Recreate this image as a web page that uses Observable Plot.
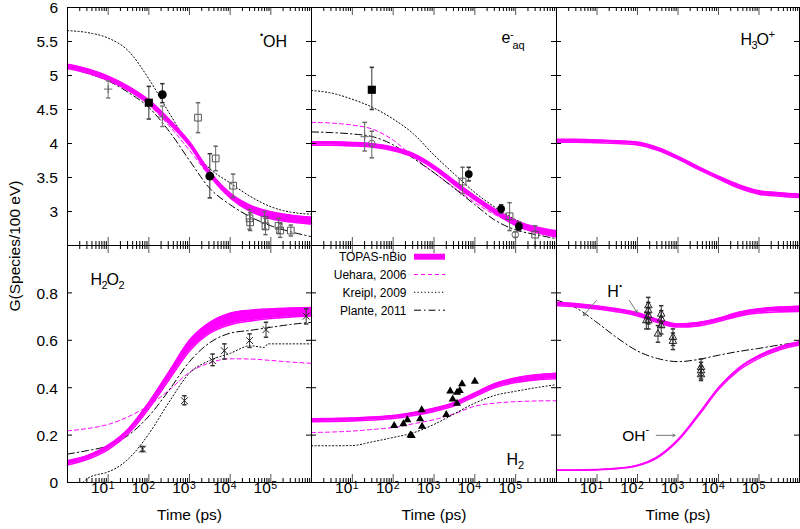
<!DOCTYPE html>
<html><head><meta charset="utf-8">
<script src="https://cdn.jsdelivr.net/npm/d3@7"></script>
<script src="https://cdn.jsdelivr.net/npm/@observablehq/plot@0.6"></script>
<style>
body{margin:0;background:#fff;}
#chart{position:relative;width:800px;height:529px;overflow:hidden;background:#fff;font-family:"Liberation Sans",Arial,sans-serif;}
#chart svg{position:absolute;}
</style></head><body><div id="chart"></div>
<script>
// ---------- shared time grid (ps) ----------
const T = [1, 3.16, 10, 31.6, 100, 316, 1000, 3160, 10000, 31600, 100000, 316000, 1000000];

// ---------- •OH ----------
const ohTopasHi = [5.165, 5.095, 4.99, 4.84, 4.64, 4.355, 4.025, 3.585, 3.27, 3.09, 2.995, 2.945, 2.915];
const ohTopasLo = [5.105, 5.035, 4.93, 4.78, 4.58, 4.295, 3.965, 3.525, 3.2, 3.0, 2.895, 2.845, 2.815];
const ohUehara = [5.16, 5.09, 4.97, 4.8, 4.57, 4.26, 3.9, 3.52, 3.22, 3.02, 2.91, 2.86, 2.83];
const ohKreipl = [5.66, 5.63, 5.55, 5.36, 4.95, 4.45, 3.98, 3.63, 3.42, 3.22, 3.07, 2.99, 2.96];
const ohPlante = [5.11, 5.03, 4.92, 4.75, 4.53, 4.18, 3.75, 3.34, 3.1, 2.92, 2.79, 2.7, 2.63];
// [t, G, errLow, errHigh]
const ohFilledSquares = [[100, 4.6, 4.36, 4.84]];
const ohFilledCircles = [[215, 4.72, 4.6, 4.88], [3160, 3.52, 3.2, 3.85]];
const ohOpenSquares = [[1620, 4.38, 4.16, 4.6], [4400, 3.78, 3.6, 3.96], [11800, 3.38, 3.21, 3.55], [30000, 2.9, 2.74, 3.03], [31000, 2.84, 2.72, 2.98], [70000, 2.88, 2.74, 3.0], [74000, 2.78, 2.66, 2.9], [155000, 2.79, 2.68, 2.9], [170000, 2.72, 2.62, 2.82], [310000, 2.72, 2.64, 2.8]];
const ohPlus = [[10, 4.8, 4.67, 4.92], [215, 4.39, 4.25, 4.55]];

// ---------- e-aq ----------
const eTopasHi = [4.025, 4.025, 4.015, 3.995, 3.945, 3.85, 3.675, 3.45, 3.23, 3.03, 2.865, 2.77, 2.715];
const eTopasLo = [3.975, 3.975, 3.965, 3.945, 3.895, 3.8, 3.625, 3.39, 3.17, 2.97, 2.795, 2.69, 2.625];
const eUehara = [4.31, 4.30, 4.27, 4.21, 4.05, 3.8, 3.57, 3.35, 3.13, 2.95, 2.82, 2.73, 2.68];
const eKreipl = [4.78, 4.74, 4.65, 4.53, 4.36, 4.14, 3.83, 3.55, 3.28, 3.06, 2.88, 2.76, 2.68];
const ePlante = [4.17, 4.16, 4.14, 4.1, 3.98, 3.78, 3.57, 3.34, 3.1, 2.87, 2.73, 2.66, 2.6];
const eFilledSquares = [[30, 4.79, 4.5, 5.12]];
const eFilledCircles = [[7100, 3.55, 3.45, 3.65], [44000, 3.04, 2.98, 3.1], [120000, 2.78, 2.72, 2.84]];
const eOpenCircles = [[30, 4.0, 3.79, 4.18], [98000, 2.66, 2.62, 2.7]];
const ePlus = [[20, 4.1, 3.89, 4.31]];
const eOpenSquares = [[5000, 3.44, 3.26, 3.65], [71000, 2.93, 2.72, 3.13], [300000, 2.66, 2.5, 2.79]];

// ---------- H3O+ ----------
const h3oTopasHi = [4.06, 4.06, 4.05, 4.04, 4.02, 3.94, 3.81, 3.66, 3.52, 3.395, 3.305, 3.275, 3.255];
const h3oTopasLo = [4.02, 4.02, 4.01, 4.0, 3.98, 3.9, 3.77, 3.62, 3.48, 3.345, 3.255, 3.225, 3.205];

// ---------- H2O2 ----------
const h2o2TopasHi = [0.092, 0.114, 0.157, 0.227, 0.338, 0.468, 0.6, 0.675, 0.714, 0.727, 0.732, 0.736, 0.738];
const h2o2TopasLo = [0.074, 0.098, 0.139, 0.207, 0.312, 0.434, 0.555, 0.63, 0.666, 0.682, 0.692, 0.699, 0.703];
const h2o2Uehara = [0.218, 0.228, 0.245, 0.278, 0.325, 0.39, 0.465, 0.505, 0.522, 0.521, 0.515, 0.508, 0.503];
const h2o2KreiplT = [2.4, 3.16, 10, 14, 31.6, 100, 316, 1000, 3160, 10000, 31600, 69000, 85000, 316000, 1000000];
const h2o2Kreipl = [0.0, 0.018, 0.045, 0.056, 0.1, 0.205, 0.34, 0.462, 0.515, 0.545, 0.577, 0.57, 0.585, 0.585, 0.585];
const h2o2Plante = [0.12, 0.135, 0.155, 0.2, 0.28, 0.39, 0.51, 0.59, 0.63, 0.642, 0.655, 0.667, 0.676];
const h2o2Points = [[70, 0.141, 0.13, 0.152], [750, 0.345, 0.328, 0.366], [3700, 0.514, 0.493, 0.542], [7200, 0.556, 0.521, 0.585], [30000, 0.599, 0.57, 0.627], [76000, 0.645, 0.613, 0.676], [740000, 0.702, 0.669, 0.733]];

// ---------- H2 ----------
const h2TopasHi = [0.269, 0.27, 0.272, 0.276, 0.282, 0.295, 0.313, 0.338, 0.378, 0.418, 0.441, 0.454, 0.461];
const h2TopasLo = [0.257, 0.258, 0.26, 0.264, 0.27, 0.283, 0.3, 0.324, 0.363, 0.401, 0.422, 0.433, 0.438];
const h2Uehara = [0.211, 0.213, 0.217, 0.224, 0.232, 0.248, 0.265, 0.29, 0.322, 0.335, 0.341, 0.344, 0.345];
const h2Kreipl = [0.155, 0.155, 0.156, 0.172, 0.19, 0.21, 0.245, 0.29, 0.335, 0.368, 0.385, 0.4, 0.413];
const h2Points = [[106, 0.24], [178, 0.247], [223, 0.264], [265, 0.2], [285, 0.198], [457, 0.268], [500, 0.306], [510, 0.237], [2000, 0.286], [2500, 0.385], [2870, 0.352], [3670, 0.334], [3670, 0.38], [4260, 0.387], [4860, 0.416], [10000, 0.427]];

// ---------- H• and OH- ----------
const hTopasHi = [0.76, 0.754, 0.745, 0.733, 0.716, 0.688, 0.669, 0.675, 0.693, 0.718, 0.733, 0.74, 0.744];
const hTopasLo = [0.747, 0.741, 0.732, 0.72, 0.703, 0.675, 0.656, 0.661, 0.679, 0.702, 0.715, 0.72, 0.722];
const hPlante = [0.77, 0.735, 0.675, 0.61, 0.555, 0.523, 0.51, 0.519, 0.537, 0.553, 0.566, 0.58, 0.592];
const ohmTopasHi = [0.053, 0.053, 0.055, 0.06, 0.073, 0.109, 0.181, 0.287, 0.4, 0.483, 0.536, 0.572, 0.594];
const ohmTopasLo = [0.051, 0.051, 0.053, 0.058, 0.07, 0.105, 0.176, 0.28, 0.392, 0.473, 0.524, 0.559, 0.58];
const hPoints = [[185, 0.746, 0.711, 0.781], [185, 0.725, 0.69, 0.76], [185, 0.704, 0.669, 0.739], [185, 0.683, 0.648, 0.718], [165, 0.683, 0.648, 0.718], [385, 0.711, 0.676, 0.746], [385, 0.69, 0.655, 0.725], [385, 0.662, 0.627, 0.697], [320, 0.627, 0.592, 0.662], [750, 0.613, 0.578, 0.648], [750, 0.596, 0.561, 0.631], [3700, 0.486, 0.451, 0.521], [3700, 0.472, 0.437, 0.507], [3700, 0.455, 0.43, 0.49]];
// annotations [t1, G1, t2, G2] and label anchors [t, G]
const annotationArrows = [[9.7, 0.768, 4.6, 0.704], [63, 0.768, 98, 0.717], [290, 0.199, 850, 0.199]];
const hLabelAt = [[25, 0.806]];
const ohmLabelAt = [[81, 0.197]];

// ---------- axes ----------
const xMajor = [1, 10, 100, 1000, 10000, 100000, 1000000];
const xMinor = xMajor.slice(0, -1).flatMap(d => [2, 3, 4, 5, 6, 7, 8, 9].map(k => k * d));
const xLabelTicks = [10, 100, 1000, 10000, 100000];
const xLabelExps = ["1", "2", "3", "4", "5"];
const topYTicks = [2.5, 3, 3.5, 4, 4.5, 5, 5.5, 6];
const topYLabelVals = [3, 3.5, 4, 4.5, 5, 5.5, 6];
const topYLabels = ["3", "3.5", "4", "4.5", "5", "5.5", "6"];
const botYTicks = [0, 0.2, 0.4, 0.6, 0.8, 1];
const botYLabelVals = [0, 0.2, 0.4, 0.6, 0.8];
const botYLabels = ["0", "0.2", "0.4", "0.6", "0.8"];
const legendNames = ["TOPAS-nBio", "Uehara, 2006", "Kreipl, 2009", "Plante, 2011"];

// ---------- layout ----------
const COLX = [67, 311, 556, 799];
const ROWY = [7, 245, 482];
const MAG = "#ff00ff";
const FONT = "Liberation Sans, Arial, Helvetica, sans-serif";
const chart = document.getElementById("chart");

const rowsOf = (ts, vs) => ts.map((t, i) => ({t, v: vs[i]}));
const CURVE = "monotone-x";
const uehara = (vs, ts = T) => Plot.line(rowsOf(ts, vs), {x: "t", y: "v", stroke: MAG, strokeWidth: 1, strokeDasharray: "4,3", curve: CURVE});
const kreipl = (vs, ts = T) => Plot.line(rowsOf(ts, vs), {x: "t", y: "v", stroke: "#000", strokeWidth: 1, strokeDasharray: "1.2,2.3", curve: CURVE});
const plante = (vs, ts = T) => Plot.line(rowsOf(ts, vs), {x: "t", y: "v", stroke: "#000", strokeWidth: 1, strokeDasharray: "7,3,1.5,3", curve: CURVE});
const topas = (lo, hi, w = 1.6) => {
  const d = T.map((t, i) => ({t, lo: lo[i], hi: hi[i]}));
  return [
    Plot.areaY(d, {x: "t", y1: "lo", y2: "hi", fill: MAG, curve: CURVE}),
    Plot.line(d, {x: "t", y: "lo", stroke: MAG, strokeWidth: w, curve: CURVE}),
    Plot.line(d, {x: "t", y: "hi", stroke: MAG, strokeWidth: w, curve: CURVE})
  ];
};
const capSym = {draw(ctx) { ctx.moveTo(-2.2, 0); ctx.lineTo(2.2, 0); }};
const errBars = (pts, color = "#444") => [
  Plot.ruleX(pts, {x: p => p[0], y1: p => p[2], y2: p => p[3], stroke: color, strokeWidth: 1}),
  Plot.dot(pts, {x: p => p[0], y: p => p[2], symbol: capSym, r: 2, fill: "none", stroke: color}),
  Plot.dot(pts, {x: p => p[0], y: p => p[3], symbol: capSym, r: 2, fill: "none", stroke: color})
];
const dots = (pts, symbol, r, fill, stroke, sw = 1) => Plot.dot(pts, {x: p => p[0], y: p => p[1], symbol, r, fill, stroke, strokeWidth: sw});

function frameTicks(fw, fh, yT) {
  return [
    Plot.tickX(xMinor, {x: d => d, insetTop: fh - 4, stroke: "#000"}),
    Plot.tickX(xMinor, {x: d => d, insetBottom: fh - 4, stroke: "#000"}),
    Plot.tickX(xMajor, {x: d => d, insetTop: fh - 8, stroke: "#555"}),
    Plot.tickX(xMajor, {x: d => d, insetBottom: fh - 8, stroke: "#555"}),
    Plot.tickY(yT, {y: d => d, insetRight: fw - 5, stroke: "#000"}),
    Plot.tickY(yT, {y: d => d, insetLeft: fw - 5, stroke: "#000"})
  ];
}

function panel(col, row, marks) {
  const fw = COLX[col + 1] - COLX[col], fh = ROWY[row + 1] - ROWY[row];
  const ml = col === 0 ? 67 : 0, mt = row === 0 ? ROWY[0] : 0, mb = row === 1 ? 47 : 0, mr = 1;
  const top = row === 0;
  const all = [...marks, ...frameTicks(fw, fh, top ? topYTicks : botYTicks), Plot.frame({stroke: "#000"})];
  if (col === 0) {
    const vals = top ? topYLabelVals : botYLabelVals, labs = top ? topYLabels : botYLabels;
    all.push(Plot.text(vals, {y: d => d, text: (d, i) => labs[i], frameAnchor: "left", textAnchor: "end", dx: -9.5, dy: 1, fontSize: 15.5, fill: "#000"}));
  }
  if (!top) {
    all.push(
      Plot.text(xLabelTicks, {x: d => d, text: () => "10", frameAnchor: "bottom", textAnchor: "end", dy: 10.5, fontSize: 15.5, fill: "#000"}),
      Plot.text(xLabelTicks, {x: d => d, text: (d, i) => xLabelExps[i], frameAnchor: "bottom", textAnchor: "start", dx: 0.5, dy: 6.5, fontSize: 10.5, fill: "#000"}),
      Plot.text(["Time (ps)"], {frameAnchor: "bottom", dy: 37, fontSize: 15.5, fill: "#000"})
    );
  }
  const svg = Plot.plot({
    width: ml + fw + mr, height: mt + fh + mb,
    marginLeft: ml, marginRight: mr, marginTop: mt, marginBottom: mb,
    x: {type: "log", domain: [1, 1e6], axis: null},
    y: {domain: top ? [2.5, 6] : [0, 1], axis: null},
    style: {background: "transparent", overflow: "visible", fontFamily: FONT, fontSize: "15px", color: "#000"},
    marks: all
  });
  svg.style.left = (COLX[col] - ml) + "px";
  svg.style.top = (ROWY[row] - mt) + "px";
  chart.append(svg);
}

// •OH
panel(0, 0, [
  uehara(ohUehara), kreipl(ohKreipl), plante(ohPlante), ...topas(ohTopasLo, ohTopasHi),
  ...errBars(ohOpenSquares, "#666"), ...errBars(ohPlus, "#777"), ...errBars(ohFilledSquares, "#333"), ...errBars(ohFilledCircles, "#333"),
  dots(ohOpenSquares, "square", 3.8, "none", "#555"),
  dots(ohPlus, "plus", 2.8, "none", "#666"),
  dots(ohFilledSquares, "square", 4.6, "#000", "none"),
  dots(ohFilledCircles, "circle", 4.4, "#000", "none")
]);
// e-aq
panel(1, 0, [
  uehara(eUehara), kreipl(eKreipl), plante(ePlante), ...topas(eTopasLo, eTopasHi),
  ...errBars(eOpenSquares, "#666"), ...errBars(ePlus, "#666"), ...errBars(eOpenCircles, "#666"), ...errBars(eFilledSquares, "#333"), ...errBars(eFilledCircles, "#333"),
  dots(eOpenSquares, "square", 3.8, "none", "#555"),
  dots(eOpenCircles, "circle", 3.3, "none", "#666"),
  dots(ePlus, "plus", 2.8, "none", "#666"),
  dots(eFilledSquares, "square", 4.6, "#000", "none"),
  dots(eFilledCircles, "circle", 3.9, "#000", "none")
]);
// H3O+
panel(2, 0, [...topas(h3oTopasLo, h3oTopasHi)]);
// H2O2
panel(0, 1, [
  uehara(h2o2Uehara), kreipl(h2o2Kreipl, h2o2KreiplT), plante(h2o2Plante), ...topas(h2o2TopasLo, h2o2TopasHi),
  ...errBars(h2o2Points, "#333"),
  dots(h2o2Points, "times", 3.2, "none", "#222")
]);
// H2
panel(1, 1, [
  uehara(h2Uehara), kreipl(h2Kreipl), ...topas(h2TopasLo, h2TopasHi),
  dots(h2Points, "triangle", 3, "#000", "none")
]);
// H• / OH-
panel(2, 1, [
  plante(hPlante), ...topas(hTopasLo, hTopasHi), ...topas(ohmTopasLo, ohmTopasHi, 1.4),
  ...errBars(hPoints, "#333"),
  dots(hPoints, "triangle2", 3.6, "none", "#222"),
  Plot.arrow(annotationArrows, {x1: a => a[0], y1: a => a[1], x2: a => a[2], y2: a => a[3], stroke: "#777", strokeWidth: 1, headLength: 4}),
  Plot.text(hLabelAt, {x: p => p[0], y: p => p[1], text: () => "H", fontSize: 16, fill: "#000"}),
  Plot.text(hLabelAt, {x: p => p[0], y: p => p[1], text: () => "•", dx: 7.5, dy: -6, fontSize: 8, fill: "#000"}),
  Plot.text(ohmLabelAt, {x: p => p[0], y: p => p[1], text: () => "OH", fontSize: 15.5, fill: "#000"}),
  Plot.text(ohmLabelAt, {x: p => p[0], y: p => p[1], text: () => "-", dx: 13.5, dy: -6, fontSize: 11, fill: "#000"})
]);

// ---------- overlay: panel labels, y label, legend ----------
const ov = d3.select(chart).append("svg").attr("width", 800).attr("height", 529)
  .style("left", "0px").style("top", "0px").style("pointer-events", "none")
  .attr("font-family", FONT).attr("fill", "#000");
const txt = (x, y, s, size, anchor = "start") => ov.append("text").attr("x", x).attr("y", y).attr("font-size", size).attr("text-anchor", anchor).text(s);
// •OH
txt(261.5, 38, "•", 9, "middle"); txt(263, 47, "OH", 16);
// e-aq
txt(501.5, 43, "e", 16); txt(510, 38, "-", 11); txt(512.5, 48.5, "aq", 11);
// H3O+
txt(740.5, 45, "H", 16); txt(751.5, 49, "3", 11); txt(756.5, 45, "O", 16); txt(768.5, 38, "+", 11);
// H2O2
txt(90.5, 285, "H", 16); txt(101.5, 289, "2", 11); txt(106.5, 285, "O", 16); txt(118.5, 289, "2", 11);
// H2
txt(506.5, 465, "H", 16); txt(518, 469, "2", 11);
// y label
ov.append("text").attr("transform", "translate(20,246) rotate(-90)").attr("text-anchor", "middle")
  .attr("font-size", 15.5).text("G(Species/100 eV)");
// legend
const legY = [256.7, 274.5, 292.3, 310.2];
legendNames.forEach((name, i) => {
  txt(406.5, legY[i] + 4.3, name, 12, "end");
  const ln = ov.append("line").attr("x1", 414).attr("x2", 445).attr("y1", legY[i]).attr("y2", legY[i]);
  if (i === 0) ln.attr("stroke", MAG).attr("stroke-width", 6);
  if (i === 1) ln.attr("stroke", MAG).attr("stroke-width", 1).attr("stroke-dasharray", "4,3");
  if (i === 2) ln.attr("stroke", "#000").attr("stroke-width", 1).attr("stroke-dasharray", "1.2,2.3");
  if (i === 3) ln.attr("stroke", "#000").attr("stroke-width", 1).attr("stroke-dasharray", "7,3,1.5,3");
});
</script>
</body></html>
